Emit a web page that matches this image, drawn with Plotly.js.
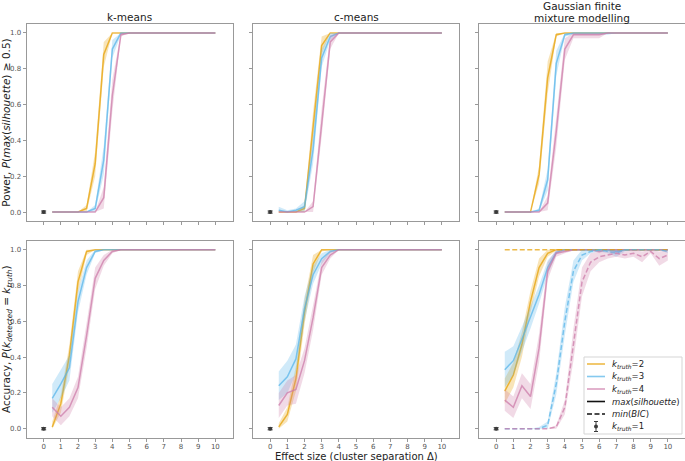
<!DOCTYPE html>
<html><head><meta charset="utf-8">
<script src="https://cdn.plot.ly/plotly-3.0.1.min.js"></script>
<style>html,body{margin:0;padding:0;background:#fff}#chart{width:685px;height:461px}</style>
</head><body><div id="chart"></div>
<script>
// ---------- data ----------
const effectSize = [0.5,1,1.5,2,2.5,3,3.5,4,4.5,5,5.5,6,6.5,7,7.5,8,8.5,9,9.5,10];
const xTicks = [0,1,2,3,4,5,6,7,8,9,10];
const yTicks = [0,0.2,0.4,0.6,0.8,1.0];
const columnTitleLines = [["k-means"],["c-means"],["Gaussian finite","mixture modelling"]];
const xAxisTitle = "Effect size (cluster separation Δ)";
const kTruthOneX = [0];
const kTruthOneY = [0];
const kTruthOneErr = [0.006];

// Power, P(max(silhouette) >= 0.5)
const kmPowerK2    = [0,0,0,0,0.02,0.27,0.88,1,1,1,1,1,1,1,1,1,1,1,1,1];
const kmPowerK2Err = [0,0,0,0,0.02,0.07,0.07,0,0,0,0,0,0,0,0,0,0,0,0,0];
const kmPowerK3    = [0,0,0,0,0,0.02,0.29,0.91,1,1,1,1,1,1,1,1,1,1,1,1];
const kmPowerK3Err = [0,0,0,0,0,0.02,0.08,0.05,0.01,0,0,0,0,0,0,0,0,0,0,0];
const kmPowerK4    = [0,0,0,0,0,0,0.08,0.65,0.99,1,1,1,1,1,1,1,1,1,1,1];
const kmPowerK4Err = [0,0,0,0,0,0,0.06,0.09,0.01,0,0,0,0,0,0,0,0,0,0,0];

const cmPowerK2    = [0,0,0,0.02,0.48,0.93,1,1,1,1,1,1,1,1,1,1,1,1,1,1];
const cmPowerK2Err = [0,0,0,0.02,0.08,0.05,0,0,0,0,0,0,0,0,0,0,0,0,0,0];
const cmPowerK3    = [0.01,0,0.01,0.03,0.35,0.86,0.98,1,1,1,1,1,1,1,1,1,1,1,1,1];
const cmPowerK3Err = [0.02,0.01,0.01,0.03,0.08,0.05,0.02,0,0,0,0,0,0,0,0,0,0,0,0,0];
const cmPowerK4    = [0,0,0,0,0.03,0.5,0.95,1,1,1,1,1,1,1,1,1,1,1,1,1];
const cmPowerK4Err = [0,0,0,0,0.03,0.08,0.04,0,0,0,0,0,0,0,0,0,0,0,0,0];

const gmPowerK2    = [0,0,0,0,0.21,0.75,0.99,1,1,1,1,1,1,1,1,1,1,1,1,1];
const gmPowerK2Err = [0,0,0,0,0.05,0.09,0.01,0,0,0,0,0,0,0,0,0,0,0,0,0];
const gmPowerK3    = [0,0,0,0,0.01,0.18,0.83,0.99,1,1,1,1,1,1,1,1,1,1,1,1];
const gmPowerK3Err = [0,0,0,0,0.01,0.06,0.07,0.01,0.01,0.01,0.01,0.01,0.01,0,0,0,0,0,0,0];
const gmPowerK4    = [0,0,0,0,0,0.05,0.45,0.91,0.99,0.99,0.99,0.99,1,1,1,1,1,1,1,1];
const gmPowerK4Err = [0,0,0,0,0,0.04,0.09,0.06,0.02,0.02,0.02,0.02,0,0,0,0,0,0,0,0];

// Accuracy, P(k_detected = k_truth)
const kmAccK2    = [0.01,0.14,0.41,0.82,0.99,1,1,1,1,1,1,1,1,1,1,1,1,1,1,1];
const kmAccK2Err = [0.03,0.05,0.06,0.06,0.02,0,0,0,0,0,0,0,0,0,0,0,0,0,0,0];
const kmAccK3    = [0.17,0.25,0.34,0.71,0.9,0.99,1,1,1,1,1,1,1,1,1,1,1,1,1,1];
const kmAccK3Err = [0.08,0.08,0.07,0.06,0.04,0.01,0,0,0,0,0,0,0,0,0,0,0,0,0,0];
const kmAccK4    = [0.12,0.07,0.12,0.23,0.52,0.84,0.94,0.99,1,1,1,1,1,1,1,1,1,1,1,1];
const kmAccK4Err = [0.05,0.05,0.05,0.06,0.07,0.06,0.03,0.01,0,0,0,0,0,0,0,0,0,0,0,0];

const cmAccK2    = [0.01,0.08,0.28,0.65,0.92,1,1,1,1,1,1,1,1,1,1,1,1,1,1,1];
const cmAccK2Err = [0.02,0.04,0.07,0.07,0.05,0.01,0,0,0,0,0,0,0,0,0,0,0,0,0,0];
const cmAccK3    = [0.24,0.29,0.39,0.67,0.86,0.95,0.99,1,1,1,1,1,1,1,1,1,1,1,1,1];
const cmAccK3Err = [0.08,0.09,0.08,0.07,0.05,0.03,0.01,0,0,0,0,0,0,0,0,0,0,0,0,0];
const cmAccK4    = [0.13,0.2,0.22,0.38,0.62,0.9,0.97,1,1,1,1,1,1,1,1,1,1,1,1,1];
const cmAccK4Err = [0.07,0.07,0.08,0.07,0.07,0.04,0.02,0,0,0,0,0,0,0,0,0,0,0,0,0];

const gmSilK2    = [0.21,0.3,0.47,0.71,0.9,0.98,1,1,1,1,1,1,1,1,1,1,1,1,1,1];
const gmSilK2Err = [0.07,0.07,0.07,0.06,0.05,0.02,0.005,0,0,0,0,0,0,0,0,0,0,0,0,0];
const gmSilK3    = [0.33,0.38,0.5,0.62,0.75,0.9,0.985,1,1,1,1,1,1,0.99,1,1,1,1,1,1];
const gmSilK3Err = [0.1,0.08,0.07,0.06,0.05,0.04,0.01,0.005,0,0,0,0,0.01,0.01,0,0,0,0,0,0];
const gmSilK4    = [0.16,0.12,0.24,0.18,0.45,0.88,0.98,0.99,1,1,1,0.99,1,1,1,1,1,1,1,1];
const gmSilK4Err = [0.06,0.06,0.07,0.07,0.08,0.05,0.02,0.01,0.005,0,0,0.01,0,0,0,0,0,0,0,0];

const gmBicK2    = [1,1,1,1,1,1,1,1,1,1,1,1,1,1,1,1,1,1,1,1];
const gmBicK2Err = [0,0,0,0,0,0,0,0,0,0,0,0,0,0,0,0,0,0,0,0];
const gmBicK3    = [0,0,0,0,0,0.02,0.25,0.6,0.88,0.97,0.99,1,0.99,0.98,1,1,1,1,1,0.99];
const gmBicK3Err = [0,0,0,0,0.01,0.02,0.06,0.08,0.06,0.03,0.01,0.01,0.01,0.02,0.01,0,0,0,0,0.01];
const gmBicK4    = [0,0,0,0,0,0,0.01,0.12,0.47,0.82,0.93,0.96,0.97,0.98,0.97,0.98,0.96,0.99,0.95,0.97];
const gmBicK4Err = [0,0,0,0,0,0,0.01,0.04,0.09,0.08,0.05,0.03,0.02,0.02,0.02,0.02,0.03,0.01,0.04,0.03];

const legendLabels = ["<i>k</i><sub><i>truth</i></sub>=2","<i>k</i><sub><i>truth</i></sub>=3","<i>k</i><sub><i>truth</i></sub>=4","<i>max</i>(<i>silhouette</i>)","<i>min</i>(<i>BIC</i>)","<i>k</i><sub><i>truth</i></sub>=1"];

// ---------- styles ----------
const FONT = "DejaVu Sans, sans-serif";
const COLORS = {
  k2: {line:"rgba(230,159,0,0.72)", fill:"rgba(230,159,0,0.28)"},
  k3: {line:"rgba(86,180,233,0.72)", fill:"rgba(86,180,233,0.28)"},
  k4: {line:"rgba(204,121,167,0.72)", fill:"rgba(204,121,167,0.28)"}
};
const W = 685, H = 461;
const colPx = [[26.5,232.5],[253,459],[479,685]];
const rowPx = [[24,221],[240.7,437.7]];
const titleLineCenters = [[16.5],[16.5],[6.5,18]];
const px2x = p => p / W;
const px2y = p => 1 - p / H;

function band(ax, ay, y, err, col, dash) {
  const lower = y.map((v,i) => Math.max(0, v - err[i]));
  const upper = y.map((v,i) => Math.min(1, v + err[i]));
  const fill = {
    type:"scatter", mode:"lines", xaxis:ax, yaxis:ay,
    x: effectSize.concat(effectSize.slice().reverse()),
    y: upper.concat(lower.slice().reverse()),
    fill:"toself", fillcolor: col.fill, line:{width:0, color:col.fill},
    hoverinfo:"skip", showlegend:false
  };
  const line = {
    type:"scatter", mode:"lines", xaxis:ax, yaxis:ay,
    x: effectSize, y: y,
    line:{color: col.line, width:1.5, dash: dash || "solid"},
    showlegend:false
  };
  return [fill, line];
}
function kOne(ax, ay) {
  return {type:"scatter", mode:"markers", xaxis:ax, yaxis:ay,
    x:kTruthOneX, y:kTruthOneY,
    marker:{color:"#3a3a3a", size:4, symbol:"circle"},
    error_y:{type:"data", array:kTruthOneErr, color:"#3a3a3a", thickness:1, width:2.5},
    showlegend:false};
}

const DASH = "5px,2.5px";
const panels = [
  ["x","y",[[kmPowerK2,kmPowerK2Err,"k2"],[kmPowerK3,kmPowerK3Err,"k3"],[kmPowerK4,kmPowerK4Err,"k4"]]],
  ["x2","y2",[[cmPowerK2,cmPowerK2Err,"k2"],[cmPowerK3,cmPowerK3Err,"k3"],[cmPowerK4,cmPowerK4Err,"k4"]]],
  ["x3","y3",[[gmPowerK2,gmPowerK2Err,"k2"],[gmPowerK3,gmPowerK3Err,"k3"],[gmPowerK4,gmPowerK4Err,"k4"]]],
  ["x4","y4",[[kmAccK2,kmAccK2Err,"k2"],[kmAccK3,kmAccK3Err,"k3"],[kmAccK4,kmAccK4Err,"k4"]]],
  ["x5","y5",[[cmAccK2,cmAccK2Err,"k2"],[cmAccK3,cmAccK3Err,"k3"],[cmAccK4,cmAccK4Err,"k4"]]],
  ["x6","y6",[[gmSilK2,gmSilK2Err,"k2"],[gmSilK3,gmSilK3Err,"k3"],[gmSilK4,gmSilK4Err,"k4"],
              [gmBicK2,gmBicK2Err,"k2",DASH],[gmBicK3,gmBicK3Err,"k3",DASH],[gmBicK4,gmBicK4Err,"k4",DASH]]]
];
const traces = [];
panels.forEach(([ax, ay, series]) => {
  series.forEach(s => traces.push(...band(ax, ay, s[0], s[1], COLORS[s[2]], s[3])));
  traces.push(kOne(ax, ay));
});

// ---------- axes ----------
const layout = {
  width:W, height:H, margin:{l:0,r:0,t:0,b:0},
  paper_bgcolor:"#fff", plot_bgcolor:"#fff",
  font:{family:FONT, size:10, color:"#222"},
  showlegend:false, hovermode:false,
  annotations:[], shapes:[]
};
for (let r = 0; r < 2; r++) {
  for (let c = 0; c < 3; c++) {
    const n = r*3 + c + 1;
    const xk = n === 1 ? "xaxis" : "xaxis"+n;
    const yk = n === 1 ? "yaxis" : "yaxis"+n;
    layout[xk] = {
      domain:[px2x(colPx[c][0]), px2x(colPx[c][1])],
      anchor: n === 1 ? "y" : "y"+n,
      range:[-1,11], tickvals:xTicks, ticktext:xTicks.map(String),
      showticklabels: r === 1, ticks:"outside", ticklen:3, tickwidth:1, tickcolor:"#999",
      ticklabelstandoff:-1,
      tickfont:{size:7, color:"#555", family:FONT},
      showline:true, linecolor:"#999", linewidth:1, mirror:true,
      showgrid:false, zeroline:false, fixedrange:true
    };
    layout[yk] = {
      domain:[px2y(rowPx[r][1]), px2y(rowPx[r][0])],
      anchor: n === 1 ? "x" : "x"+n,
      range:[-0.05,1.05], tickvals:yTicks, tickformat:".1f",
      showticklabels: c === 0, ticks:"outside", ticklen:3, tickwidth:1, tickcolor:"#999",
      tickfont:{size:7, color:"#555", family:FONT},
      showline:true, linecolor:"#999", linewidth:1, mirror:true,
      showgrid:false, zeroline:false, fixedrange:true
    };
  }
}
layout.yaxis.title = {text:"Power, <i>P</i>(<i>max</i>(<i>silhouette</i>) ≥ 0.5)", font:{size:10.5, family:FONT, color:"#222"}, standoff:2};
layout.yaxis4.title = {text:"Accuracy, <i>P</i>(<i>k</i><sub><i>detected</i></sub> = <i>k</i><sub><i>truth</i></sub>)", font:{size:10.5, family:FONT, color:"#222"}, standoff:2};

// x-axis title (shared, under the middle column)
layout.annotations.push({
  text:xAxisTitle, xref:"paper", yref:"paper",
  x: px2x((colPx[1][0]+colPx[1][1])/2), y: px2y(449.5),
  xanchor:"center", yanchor:"top", showarrow:false, borderpad:0,
  font:{size:10, family:FONT, color:"#222"}
});

// column titles (one annotation per line)
columnTitleLines.forEach((lines, c) => {
  lines.forEach((t, j) => {
    layout.annotations.push({
      text:t, xref:"paper", yref:"paper",
      x: px2x((colPx[c][0]+colPx[c][1])/2), y: px2y(titleLineCenters[c][j]),
      xanchor:"center", yanchor:"middle", showarrow:false, borderpad:0,
      font:{size:10.5, family:FONT, color:"#222"}
    });
  });
});

// ---------- legend (bottom-right panel) ----------
const lg = {x0:584, x1:682, y0:357, y1:434, sx0:587, sx1:605, tx:610, rows:[364,376.5,389,401.5,414,426.5]};
layout.shapes.push({type:"rect", xref:"paper", yref:"paper",
  x0:px2x(lg.x0), x1:px2x(lg.x1), y0:px2y(lg.y1), y1:px2y(lg.y0),
  fillcolor:"rgba(255,255,255,0.85)", line:{color:"#d5d5d5", width:1}, layer:"above"});
const sampleStyles = [
  {color:COLORS.k2.line, dash:"solid"},
  {color:COLORS.k3.line, dash:"solid"},
  {color:COLORS.k4.line, dash:"solid"},
  {color:"#111", dash:"solid"},
  {color:"#111", dash:"5px,2.5px"}
];
sampleStyles.forEach((s, i) => {
  layout.shapes.push({type:"line", xref:"paper", yref:"paper",
    x0:px2x(lg.sx0), x1:px2x(lg.sx1), y0:px2y(lg.rows[i]), y1:px2y(lg.rows[i]),
    line:{color:s.color, width:1.6, dash:s.dash}, layer:"above"});
});
const ebx = (lg.sx0+lg.sx1)/2, eby = lg.rows[5];
layout.shapes.push(
  {type:"line", xref:"paper", yref:"paper", x0:px2x(ebx), x1:px2x(ebx), y0:px2y(eby-5), y1:px2y(eby+5), line:{color:"#3a3a3a", width:1}, layer:"above"},
  {type:"line", xref:"paper", yref:"paper", x0:px2x(ebx-2), x1:px2x(ebx+2), y0:px2y(eby-5), y1:px2y(eby-5), line:{color:"#3a3a3a", width:1}, layer:"above"},
  {type:"line", xref:"paper", yref:"paper", x0:px2x(ebx-2), x1:px2x(ebx+2), y0:px2y(eby+5), y1:px2y(eby+5), line:{color:"#3a3a3a", width:1}, layer:"above"},
  {type:"circle", xref:"paper", yref:"paper", x0:px2x(ebx-2), x1:px2x(ebx+2), y0:px2y(eby+2), y1:px2y(eby-2), fillcolor:"#3a3a3a", line:{color:"#3a3a3a", width:0}, layer:"above"}
);
legendLabels.forEach((t, i) => {
  layout.annotations.push({text:t, xref:"paper", yref:"paper",
    x:px2x(lg.tx), y:px2y(lg.rows[i]), xanchor:"left", yanchor:"middle",
    showarrow:false, font:{size:8.5, family:FONT, color:"#222"}});
});

Plotly.newPlot("chart", traces, layout, {staticPlot:true, displayModeBar:false});
</script></body></html>
